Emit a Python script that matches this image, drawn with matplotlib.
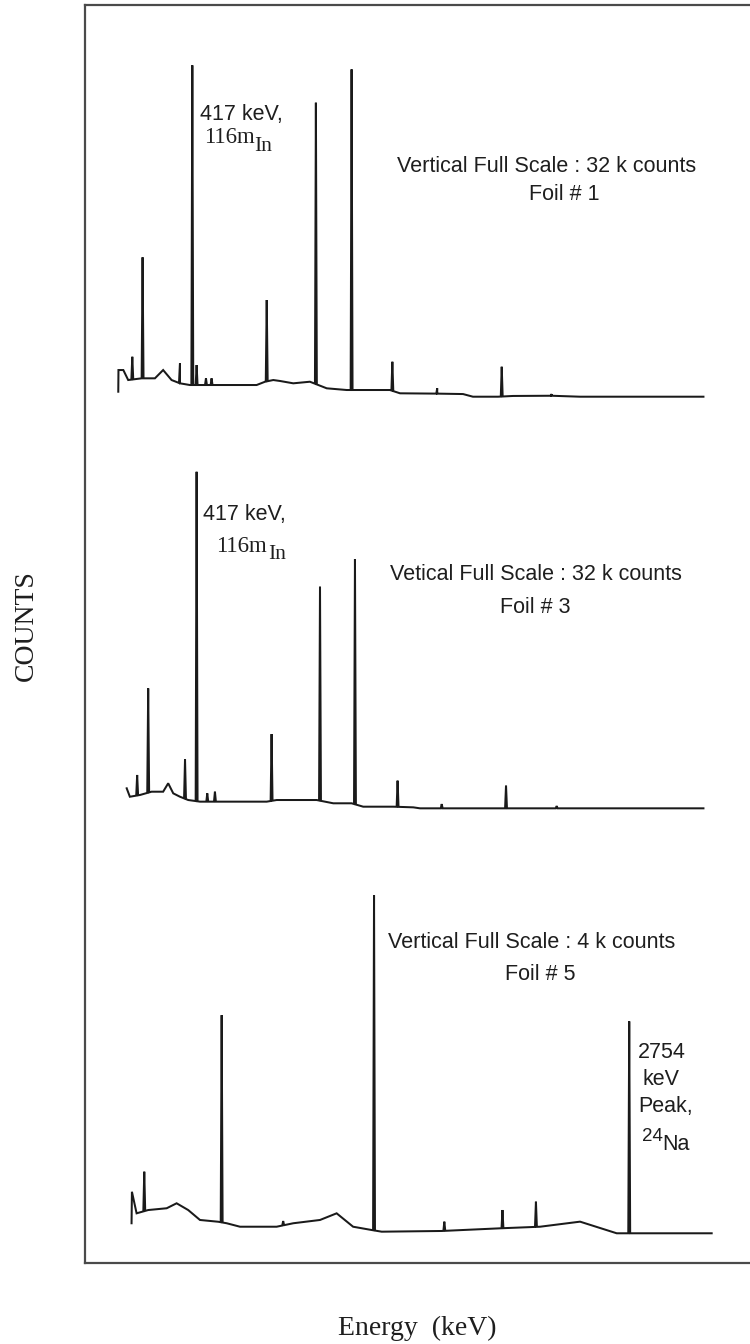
import numpy as np
import matplotlib
import matplotlib.pyplot as plt

matplotlib.use('Agg')

W, H = 750, 1344

# Foil 1 -- vertical full scale 32 k counts (energy in keV, counts in k)
f1_base_e = [23, 24, 50, 76, 148, 219, 263, 308, 353, 406, 763, 808, 852, 888, 959,
             1048, 1138, 1245, 1298, 1476, 1530, 1729, 1867, 1920, 2054, 2134, 2341, 2493, 3153]
f1_base_c = [0.78, 2.82, 2.82, 1.88, 2.04, 2.04, 2.82, 1.88, 1.57, 1.41, 1.41, 1.72, 1.88, 1.79, 1.57,
             1.72, 1.10, 0.94, 0.94, 0.94, 0.63, 0.60, 0.56, 0.31, 0.31, 0.38, 0.40, 0.31, 0.31]
f1_peak_e = [98, 153, 353, 419, 442, 492, 522, 817, 1080, 1271, 1489, 1729, 2074, 2341]
f1_peak_c = [4.07, 13.43, 3.45, 31.5, 3.29, 2.04, 2.04, 9.41, 27.98, 31.12, 3.6, 1.10, 3.13, 0.56]

# Foil 3 -- vertical full scale 32 k counts
f3_base_e = [68, 85, 139, 201, 263, 290, 317, 353, 397, 460, 817, 870, 1084, 1173, 1271,
             1333, 1494, 1601, 1637, 1851, 2083, 3153]
f3_base_c = [2.44, 1.67, 1.83, 2.13, 2.13, 2.90, 1.98, 1.67, 1.37, 1.22, 1.22, 1.37, 1.37, 1.07, 1.07,
             0.76, 0.76, 0.70, 0.61, 0.61, 0.61, 0.61]
f3_peak_e = [124, 183, 380, 442, 499, 540, 843, 1102, 1289, 1517, 1753, 2097, 2368]
f3_peak_c = [3.66, 11.58, 5.09, 31.38, 1.98, 2.13, 7.40, 20.87, 23.4, 3.14, 1.0, 2.68, 0.82]

# Foil 5 -- vertical full scale 4 k counts
f5_base_e = [94, 96, 121, 183, 282, 335, 397, 460, 558, 603, 674, 870, 959, 1102, 1191,
             1279, 1378, 1432, 1753, 2065, 2279, 2493, 2689, 2778, 3197]
f5_base_c = [0.245, 0.60, 0.357, 0.394, 0.414, 0.47, 0.394, 0.282, 0.262, 0.245, 0.206, 0.206, 0.245,
             0.282, 0.357, 0.206, 0.169, 0.15, 0.158, 0.188, 0.206, 0.263, 0.132, 0.132, 0.132]
f5_peak_e = [162, 576, 905, 1391, 1767, 2078, 2257, 2756]
f5_peak_c = [0.826, 2.59, 0.27, 3.94, 0.263, 0.394, 0.488, 2.52]

E_MIN, E_MAX = -155, 3402
HW = 5  # half width of a peak at its base, keV

LINE = '#1a1a1a'
TXT = '#1e1e1e'
SANS = 'Liberation Sans'
SERIF = 'Liberation Serif'


def spectrum(base_e, base_c, peak_e, peak_c):
    base_e = np.asarray(base_e, float)
    base_c = np.asarray(base_c, float)
    pe = np.asarray(peak_e, float)
    e = np.sort(np.concatenate([base_e, pe - HW, pe, pe + HW]))
    c = np.interp(e, base_e, base_c)
    for x, top in zip(peak_e, peak_c):
        c[np.searchsorted(e, x)] = top
    return e, c


def px(x, y):
    return x / W, 1 - y / H


fig = plt.figure(figsize=(W / 100, H / 100), dpi=100)

# outer frame
frame = fig.add_axes([85 / W, 1 - 1263 / H, (770 - 85) / W, (1263 - 5) / H])
frame.set_xticks([])
frame.set_yticks([])
frame.spines['right'].set_visible(False)
for s in ('left', 'top', 'bottom'):
    frame.spines[s].set_color('#4a4a4a')
    frame.spines[s].set_linewidth(1.6)

panels = [
    (f1_base_e, f1_base_c, f1_peak_e, f1_peak_c, 60, 400, 32),
    (f3_base_e, f3_base_c, f3_peak_e, f3_peak_c, 465, 815, 32),
    (f5_base_e, f5_base_c, f5_peak_e, f5_peak_c, 890, 1245, 4),
]
for be, bc, pe, pc, top, bottom, full in panels:
    ax = fig.add_axes([85 / W, 1 - bottom / H, 665 / W, (bottom - top) / H])
    e, c = spectrum(be, bc, pe, pc)
    ax.plot(e, c, color=LINE, lw=1.45, solid_joinstyle='miter')
    ax.set_xlim(E_MIN, E_MAX)
    ax.set_ylim(0, full)
    ax.axis('off')

fs = 15.5

# foil 1 labels
fig.text(*px(200, 120), '417 keV,', fontsize=fs, family=SANS, color=TXT)
fig.text(*px(204, 143), '116m', fontsize=fs + 1, family=SERIF, color=TXT)
fig.text(*px(254, 151), 'In', fontsize=fs, family=SERIF, color=TXT)
fig.text(*px(547, 172), 'Vertical Full Scale : 32 k counts', fontsize=fs, family=SANS,
         ha='center', color=TXT)
fig.text(*px(564, 200), 'Foil # 1', fontsize=fs, family=SANS, ha='center', color=TXT)

# foil 3 labels
fig.text(*px(203, 520), '417 keV,', fontsize=fs, family=SANS, color=TXT)
fig.text(*px(216, 552), '116m', fontsize=fs + 1, family=SERIF, color=TXT)
fig.text(*px(268, 559), 'In', fontsize=fs, family=SERIF, color=TXT)
fig.text(*px(536, 580), 'Vetical Full Scale : 32 k counts', fontsize=fs, family=SANS,
         ha='center', color=TXT)
fig.text(*px(535, 613), 'Foil # 3', fontsize=fs, family=SANS, ha='center', color=TXT)

# foil 5 labels
fig.text(*px(532, 948), 'Vertical Full Scale : 4 k counts', fontsize=fs, family=SANS,
         ha='center', color=TXT)
fig.text(*px(540, 980), 'Foil # 5', fontsize=fs, family=SANS, ha='center', color=TXT)
fig.text(*px(638, 1058), '2754', fontsize=fs, family=SANS, color=TXT)
fig.text(*px(642, 1085), 'keV', fontsize=fs, family=SANS, color=TXT)
fig.text(*px(638, 1112), 'Peak,', fontsize=fs, family=SANS, color=TXT)
fig.text(*px(642, 1141), '24', fontsize=fs - 2, family=SANS, color=TXT)
fig.text(*px(662, 1150), 'Na', fontsize=fs, family=SANS, color=TXT)

# axis titles
fig.text(*px(26, 626), 'COUNTS', fontsize=20, family=SERIF, rotation=90,
         ha='center', va='center', color=TXT)
fig.text(*px(417, 1335), 'Energy  (keV)', fontsize=20, family=SERIF, ha='center', color=TXT)

fig.savefig('out.png', dpi=100)
